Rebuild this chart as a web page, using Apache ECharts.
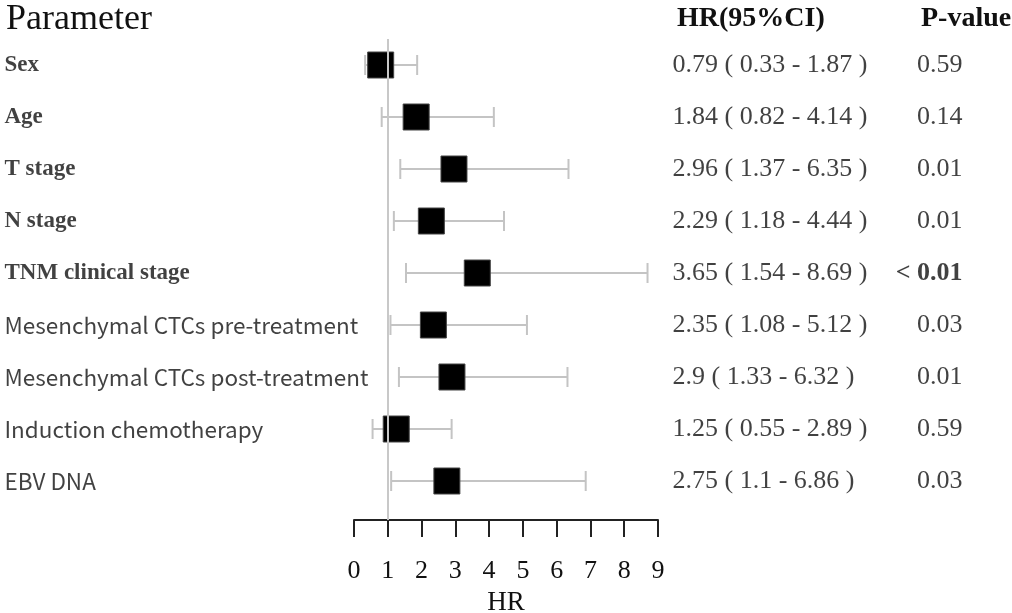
<!DOCTYPE html>
<html>
<head>
<meta charset="utf-8">
<script src="https://cdn.jsdelivr.net/npm/echarts@6/dist/echarts.min.js"></script>
<style>html,body{margin:0;padding:0;background:#fff;}#c{width:1012px;height:613px;}</style>
</head>
<body>
<div id="c"></div>
<script>
const params = ['Sex','Age','T stage','N stage','TNM clinical stage','Mesenchymal CTCs pre-treatment','Mesenchymal CTCs post-treatment','Induction chemotherapy','EBV DNA'];
const hr = [0.79, 1.84, 2.96, 2.29, 3.65, 2.35, 2.9, 1.25, 2.75];
const lower = [0.33, 0.82, 1.37, 1.18, 1.54, 1.08, 1.33, 0.55, 1.1];
const upper = [1.87, 4.14, 6.35, 4.44, 8.69, 5.12, 6.32, 2.89, 6.86];
const pvals = ['0.59','0.14','0.01','0.01','< 0.01','0.03','0.01','0.59','0.03'];
const xTicks = [0,1,2,3,4,5,6,7,8,9];

const SERIF = '"Liberation Serif","Times New Roman",serif';
const SANS = '"Noto Sans CJK SC","Noto Sans",sans-serif';
const Y_MIN = -0.5, Y_MAX = 8.75;
const GT = 39, GH = 481;

const chart = echarts.init(document.getElementById('c'));

const hrText = hr.map((v,i)=> v + ' ( ' + lower[i] + ' - ' + upper[i] + ' )');

function yAx(idx){ return {gridIndex: idx, type:'value', min:Y_MIN, max:Y_MAX, inverse:true, show:false}; }
function hidX(idx){ return {gridIndex: idx, type:'value', min:0, max:1, show:false}; }
function grid(left, width){ return {left:left, width:width, top:GT, height:GH, containLabel:false, outerBoundsMode:'none'}; }

function textSeries(gridIdx, texts, xPos, pos, styleFn){
  return {
    type:'scatter', xAxisIndex:gridIdx, yAxisIndex:gridIdx, symbolSize:1,
    itemStyle:{color:'transparent'}, silent:true,
    data: texts.map((t,i)=>({
      value:[xPos,i],
      label: Object.assign({show:true, position:pos, distance:0, formatter:t, color:'#111'}, styleFn(t,i))
    }))
  };
}

const option = {
  animation:false,
  backgroundColor:'#fff',
  title:[
    {text:'Parameter', left:1, top:-3, textStyle:{fontFamily:SERIF, fontSize:36, fontWeight:'normal', color:'#111'}},
    {text:'HR(95%CI)', left:672, top:0, textStyle:{fontFamily:SERIF, fontSize:28, fontWeight:'bold', color:'#111'}},
    {text:'P-value', left:916, top:0, textStyle:{fontFamily:SERIF, fontSize:28, fontWeight:'bold', color:'#111'}}
  ],
  grid:[grid(354, 304), grid(4, 340), grid(672, 220), grid(893, 70)],
  xAxis:[
    {gridIndex:0, type:'value', min:0, max:9, interval:1, position:'bottom',
     name:'HR', nameLocation:'middle', nameGap:69,
     nameTextStyle:{fontFamily:SERIF, fontSize:27, color:'#111'},
     axisLine:{show:true, onZero:false, lineStyle:{color:'#222', width:2}},
     axisTick:{show:true, length:17, lineStyle:{color:'#222', width:2}},
     axisLabel:{margin:38, fontFamily:SERIF, fontSize:26, color:'#111',
       formatter:(v)=> xTicks.indexOf(v) >= 0 ? String(v) : ''},
     splitLine:{show:false}},
    hidX(1), hidX(2), hidX(3)
  ],
  yAxis:[yAx(0), yAx(1), yAx(2), yAx(3)],
  series:[
    {
      type:'custom', xAxisIndex:0, yAxisIndex:0, z:1, silent:true,
      data: hr.map((v,i)=>[lower[i], upper[i], i]),
      renderItem:(p, api)=>{
        const a = api.coord([api.value(0), api.value(2)]);
        const b = api.coord([api.value(1), api.value(2)]);
        const st = {stroke:'#c4c4c4', lineWidth:2};
        const h = 10;
        return {type:'group', children:[
          {type:'line', shape:{x1:a[0], y1:a[1], x2:b[0], y2:b[1]}, style:st},
          {type:'line', shape:{x1:a[0], y1:a[1]-h, x2:a[0], y2:a[1]+h}, style:st},
          {type:'line', shape:{x1:b[0], y1:b[1]-h, x2:b[0], y2:b[1]+h}, style:st}
        ]};
      },
      markLine:{silent:true, symbol:'none', label:{show:false},
        lineStyle:{color:'#c8c8c8', width:2, type:'solid'},
        data:[{xAxis:1}]}
    },
    {
      type:'scatter', xAxisIndex:0, yAxisIndex:0, z:3, symbol:'rect', symbolSize:26,
      itemStyle:{color:'#000', opacity:1, borderColor:'#444', borderWidth:1},
      data: hr.map((v,i)=>[v,i])
    },
    textSeries(1, params, 0, 'right', (t,i)=> i < 5
      ? {fontFamily:SERIF, fontSize:23, fontWeight:'bold', padding:[6,0,0,0]}
      : {fontFamily:SANS, fontSize:22.5, fontWeight:'normal', padding:[4,0,0,0]}),
    textSeries(2, hrText, 0, 'right', ()=>({fontFamily:SERIF, fontSize:26, padding:[3,0,0,0]})),
    textSeries(3, pvals, 1, 'left', (t)=>({fontFamily:SERIF, fontSize:26, padding:[3,0,0,0], fontWeight: t.indexOf('<') === 0 ? 'bold' : 'normal'}))
  ]
};
chart.setOption(option);
</script>
</body>
</html>
